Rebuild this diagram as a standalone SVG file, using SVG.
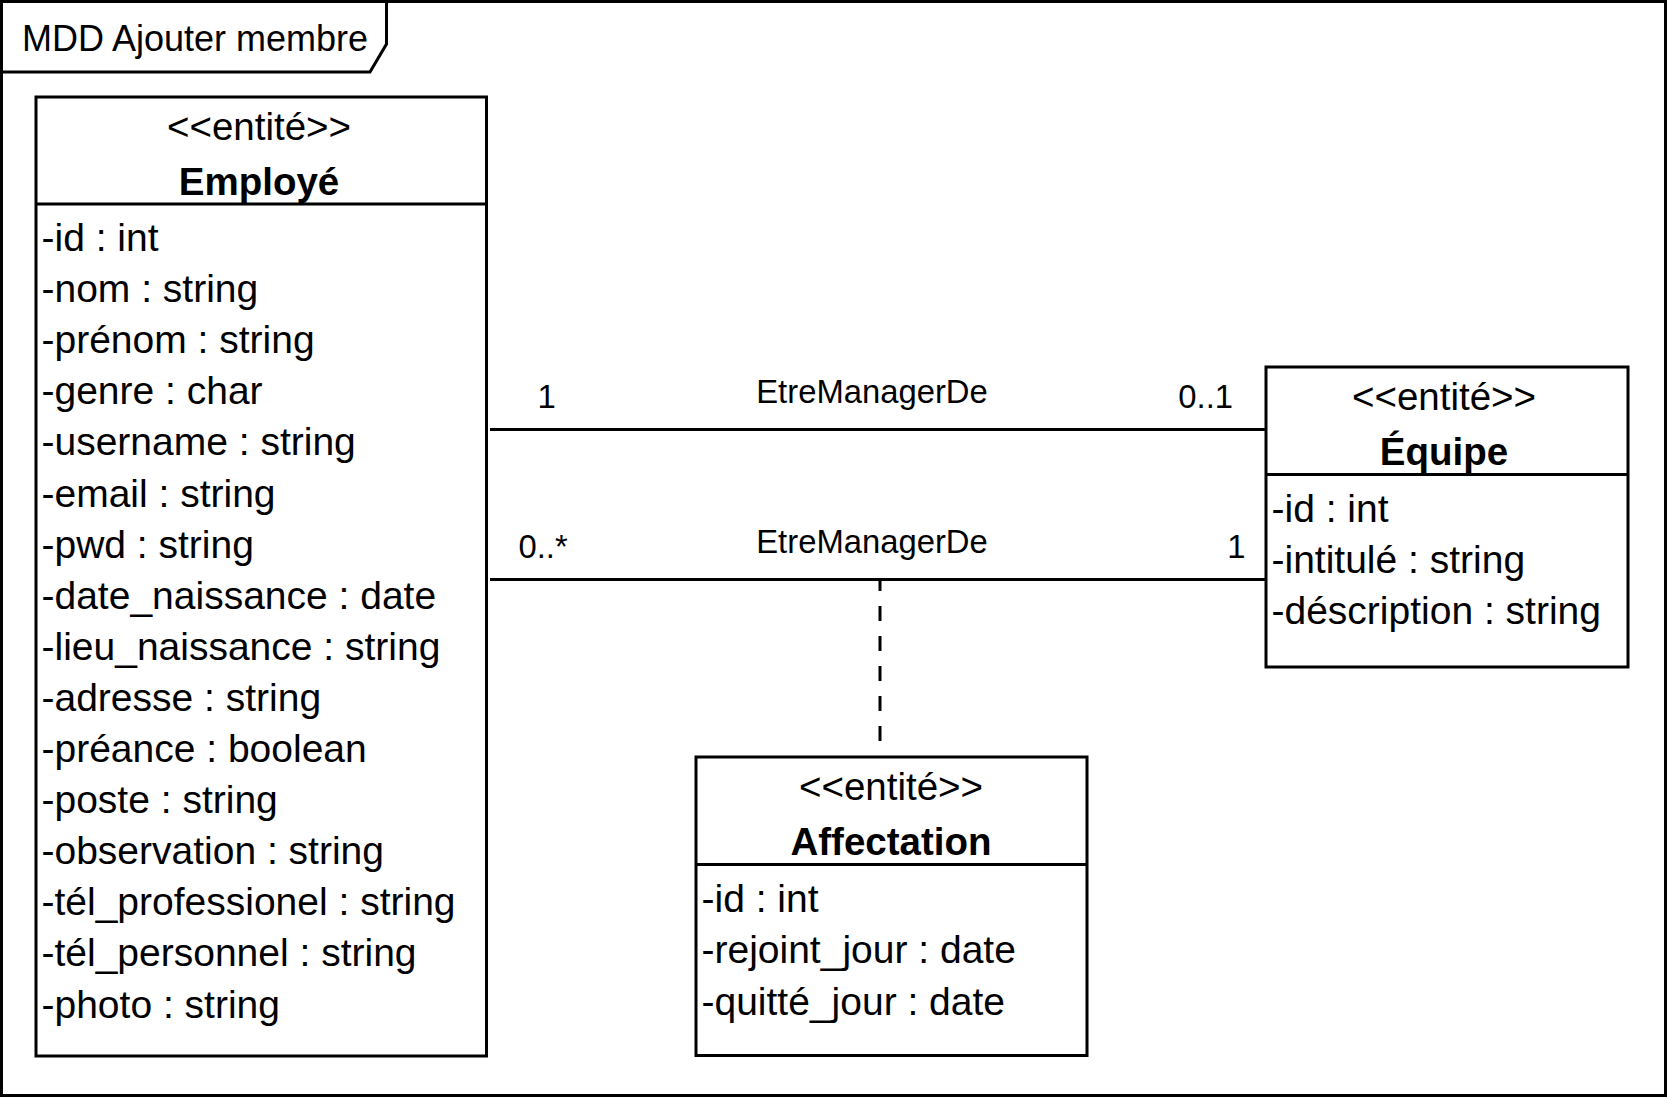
<svg xmlns="http://www.w3.org/2000/svg" width="1668" height="1098" viewBox="0 0 1668 1098">
  <style>
    .box { fill: #ffffff; stroke: #000000; stroke-width: 3; }
    .ln { fill: none; stroke: #000000; stroke-width: 3; }
    .dash { fill: none; stroke: #000000; stroke-width: 3; stroke-dasharray: 15 15; stroke-dashoffset: 4; }
    text { font-family: "Liberation Sans", Arial, Helvetica, sans-serif; fill: #000000; }
    .title { font-size: 36px; }
    .st { font-size: 38.5px; text-anchor: middle; }
    .nm { font-size: 38.5px; font-weight: bold; text-anchor: middle; }
    .at { font-size: 39px; }
    .lbl { font-size: 32.8px; }
  </style>
  <rect x="0" y="0" width="1668" height="1098" fill="#ffffff"/>

  <g id="frame">
    <rect x="1.5" y="1.5" width="1664" height="1094" class="ln"/>
    <path d="M 1.5 72 L 370 72 L 386.5 44 L 386.5 1.5" class="ln"/>
    <text x="22" y="51" class="title">MDD Ajouter membre</text>
  </g>

  <g id="connectors">
    <line x1="490" y1="429.5" x2="1269" y2="429.5" class="ln"/>
    <line x1="490" y1="579.5" x2="1269" y2="579.5" class="ln"/>
    <line x1="880" y1="580" x2="880" y2="757" class="dash"/>
    <text x="872" y="402.5" class="lbl" text-anchor="middle">EtreManagerDe</text>
    <text x="537.5" y="408" class="lbl">1</text>
    <text x="1233" y="408" class="lbl" text-anchor="end">0..1</text>
    <text x="872" y="552.5" class="lbl" text-anchor="middle">EtreManagerDe</text>
    <text x="518.5" y="558" class="lbl">0..*</text>
    <text x="1245.5" y="558" class="lbl" text-anchor="end">1</text>
  </g>

  <g id="employe">
    <rect x="36" y="97" width="450.5" height="959" class="box"/>
    <line x1="36" y1="204" x2="486.5" y2="204" class="ln"/>
    <text x="259" y="139.5" class="st">&lt;&lt;entité&gt;&gt;</text>
    <text x="259" y="194.5" class="nm">Employé</text>
    <text x="41.5" y="251" class="at">-id : int</text>
    <text x="41.5" y="302.1" class="at">-nom : string</text>
    <text x="41.5" y="353.2" class="at">-prénom : string</text>
    <text x="41.5" y="404.3" class="at">-genre : char</text>
    <text x="41.5" y="455.4" class="at">-username : string</text>
    <text x="41.5" y="506.5" class="at">-email : string</text>
    <text x="41.5" y="557.6" class="at">-pwd : string</text>
    <text x="41.5" y="608.7" class="at">-date_naissance : date</text>
    <text x="41.5" y="659.8" class="at">-lieu_naissance : string</text>
    <text x="41.5" y="710.9" class="at">-adresse : string</text>
    <text x="41.5" y="762" class="at">-préance : boolean</text>
    <text x="41.5" y="813.1" class="at">-poste : string</text>
    <text x="41.5" y="864.2" class="at">-observation : string</text>
    <text x="41.5" y="915.3" class="at">-tél_professionel : string</text>
    <text x="41.5" y="966.4" class="at">-tél_personnel : string</text>
    <text x="41.5" y="1017.5" class="at">-photo : string</text>
  </g>

  <g id="equipe">
    <rect x="1266" y="367" width="362" height="300" class="box"/>
    <line x1="1266" y1="474.5" x2="1628" y2="474.5" class="ln"/>
    <text x="1444" y="409.5" class="st">&lt;&lt;entité&gt;&gt;</text>
    <text x="1444" y="464.5" class="nm">Équipe</text>
    <text x="1271.5" y="521.6" class="at">-id : int</text>
    <text x="1271.5" y="572.7" class="at">-intitulé : string</text>
    <text x="1271.5" y="623.8" class="at">-déscription : string</text>
  </g>

  <g id="affectation">
    <rect x="696" y="757" width="391" height="298.5" class="box"/>
    <line x1="696" y1="864.5" x2="1087" y2="864.5" class="ln"/>
    <text x="891" y="799.5" class="st">&lt;&lt;entité&gt;&gt;</text>
    <text x="891" y="854.5" class="nm">Affectation</text>
    <text x="701.5" y="912.3" class="at">-id : int</text>
    <text x="701.5" y="963.4" class="at">-rejoint_jour : date</text>
    <text x="701.5" y="1014.5" class="at">-quitté_jour : date</text>
  </g>
</svg>
